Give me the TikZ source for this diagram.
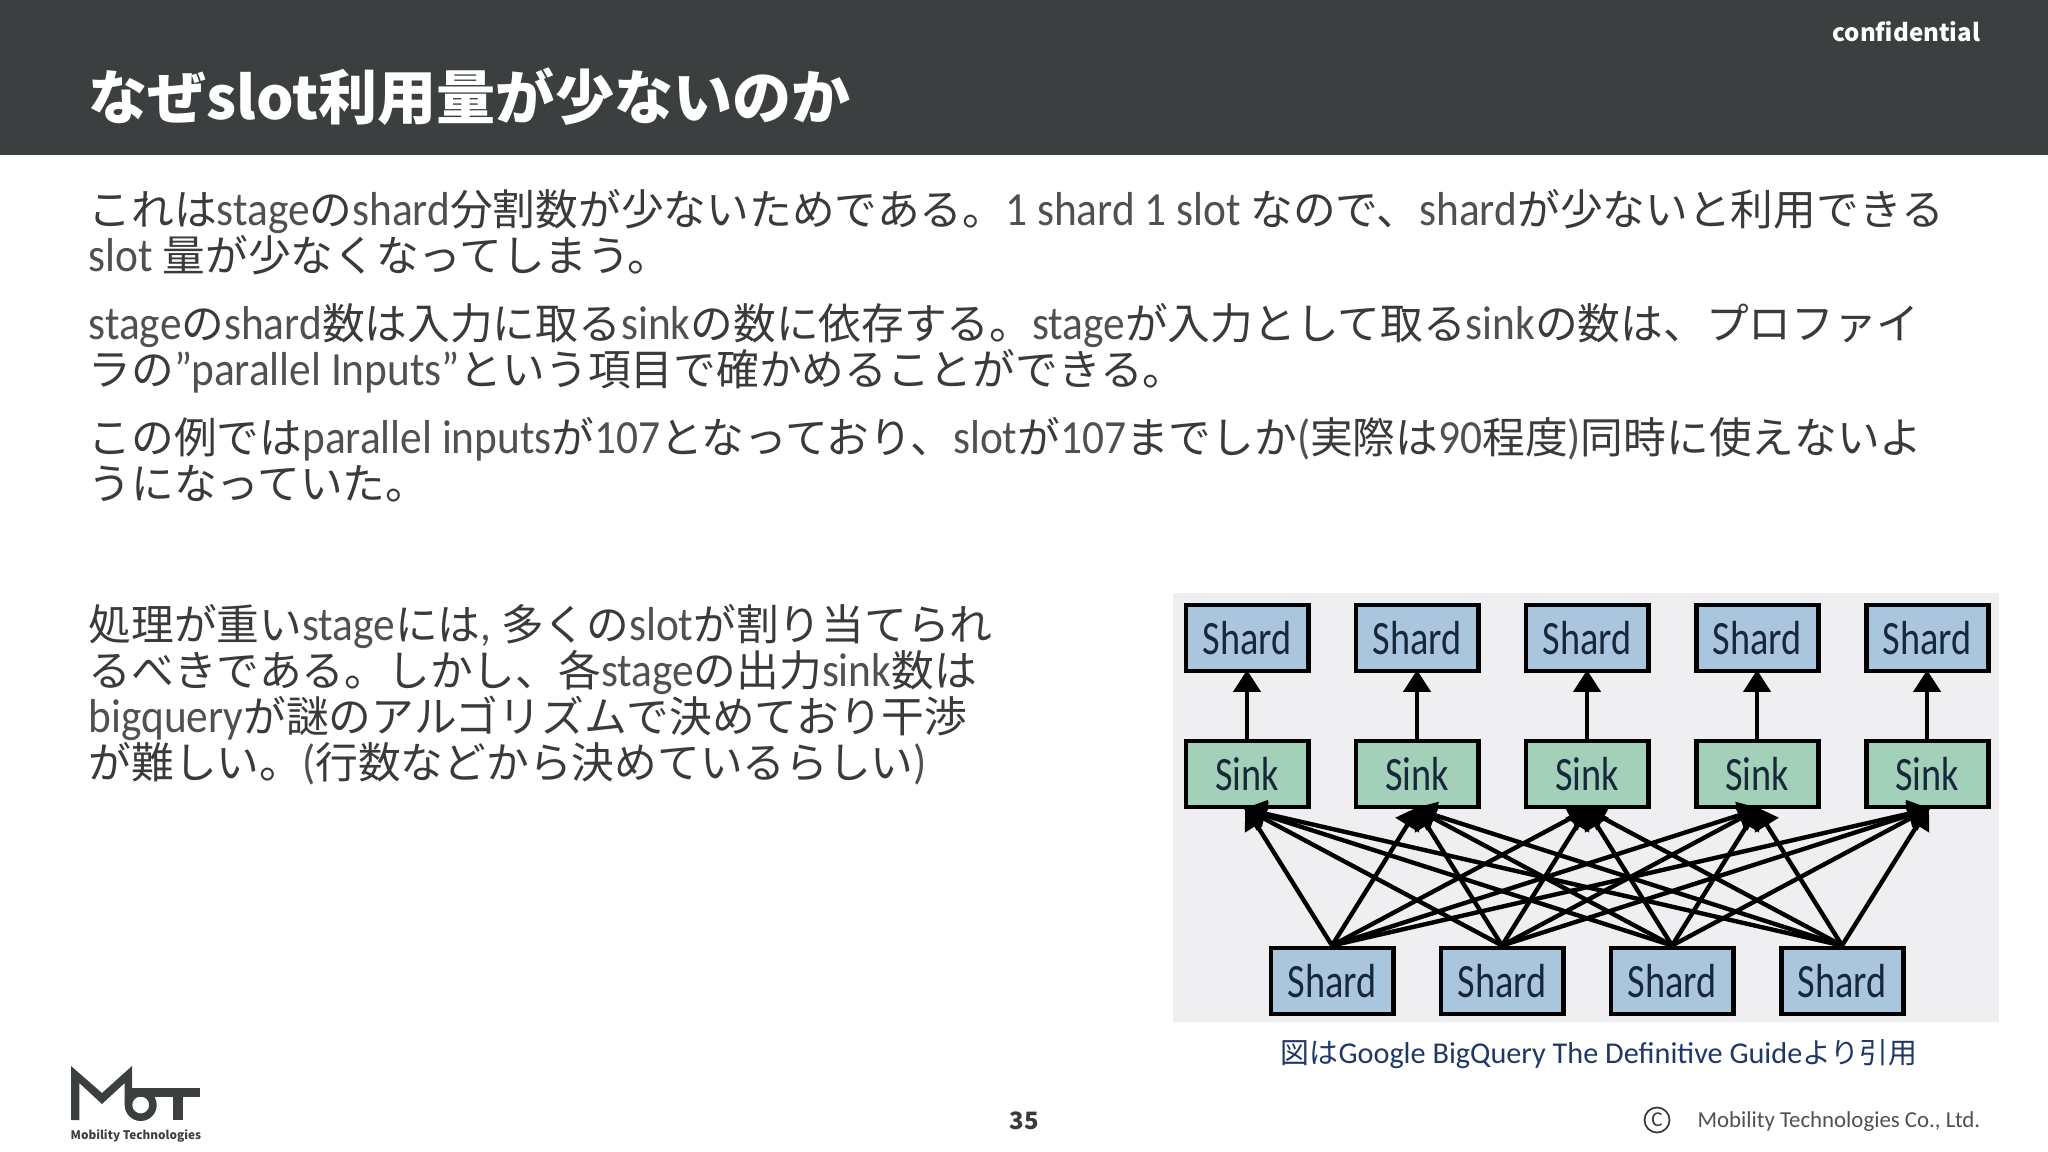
\documentclass[tikz,border=0pt]{standalone}
\usepackage{fontspec}
\setmainfont{Noto Sans CJK JP}
\newfontfamily\latfont[Scale=1.115,FakeStretch=0.91]{Carlito}
\newfontfamily\capfont{Carlito}
\newfontfamily\boxfont[FakeStretch=0.8]{Carlito}
\usetikzlibrary{arrows.meta,positioning}
\definecolor{headbg}{HTML}{3B3F3F}
\definecolor{bodytext}{HTML}{3A3A3A}
\definecolor{lattext}{HTML}{505050}
\definecolor{figbg}{HTML}{EFEFF1}
\definecolor{shardblue}{HTML}{A9C6DE}
\definecolor{sinkgreen}{HTML}{A3D0B8}
\definecolor{boxtext}{HTML}{16283A}
\definecolor{capnavy}{HTML}{1F3864}
\newcommand{\La}[1]{{\latfont\color{lattext}#1}}
\tikzset{
	bodyline/.style={anchor=base west, inner sep=0pt, text=bodytext, font=\fontsize{12.15pt}{13pt}\selectfont},
	databox/.style={draw=black, line width=1.4pt, minimum width=1.22cm, minimum height=0.66cm, inner sep=0pt, text=boxtext, font=\boxfont\fontsize{13.6pt}{13.6pt}\selectfont},
	shardbox/.style={databox, fill=shardblue},
	sinkbox/.style={databox, fill=sinkgreen},
	feed/.style={-{Triangle[width=0.27cm,length=0.22cm]}, line width=1.25pt, shorten >=-1pt},
}
\begin{document}
\begin{tikzpicture}[x=0.01cm,y=-0.01cm]
	\useasboundingbox (0,0) rectangle (2048,1152);
	\fill[headbg] (0,0) rectangle (2048,155);
	\node[anchor=base west, inner sep=0pt, text=white, font=\bfseries\fontsize{16.8pt}{17pt}\selectfont] (title) at (88,120) {なぜslot利用量が少ないのか};
	\node[anchor=base east, inner sep=0pt, text=white, font=\bfseries\fontsize{6.85pt}{8pt}\selectfont] (conf) at (1981,42) {confidential};

	\node[bodyline] (l1) at (88,226) {これは\La{stage}の\La{shard}分割数が少ないためである。\La{1 shard 1 slot} なので、\La{shard}が少ないと利用できる};
	\node[bodyline] (l2) at (88,272) {\La{slot} 量が少なくなってしまう。};
	\node[bodyline] (l3) at (88,340) {\La{stage}の\La{shard}数は入力に取る\La{sink}の数に依存する。\La{stage}が入力として取る\La{sink}の数は、プロファイ};
	\node[bodyline] (l4) at (88,386) {ラの\La{”parallel Inputs”}という項目で確かめることができる。};
	\node[bodyline] (l5) at (88,454) {この例では\La{parallel inputs}が\La{107}となっており、\La{slot}が\La{107}までしか\La{(}実際は\La{90}程度\La{)}同時に使えないよ};
	\node[bodyline] (l6) at (88,500) {うになっていた。};

	\node[bodyline] (l7) at (88,640) {処理が重い\La{stage}には\La{,} 多くの\La{slot}が割り当てられ};
	\node[bodyline] (l8) at (88,686) {るべきである。しかし、各\La{stage}の出力\La{sink}数は};
	\node[bodyline] (l9) at (88,732) {\La{bigquery}が謎のアルゴリズムで決めており干渉};
	\node[bodyline] (l10) at (88,778) {が難しい。\La{(}行数などから決めているらしい\La{)}};

	\fill[figbg] (1173,593) rectangle (1999,1022);
	\node[shardbox] (top1) at (1247,638) {Shard};
	\node[shardbox, right=0.43cm of top1] (top2) {Shard};
	\node[shardbox, right=0.43cm of top2] (top3) {Shard};
	\node[shardbox, right=0.43cm of top3] (top4) {Shard};
	\node[shardbox, right=0.43cm of top4] (top5) {Shard};
	\node[sinkbox, below=0.65cm of top1] (sink1) {Sink};
	\node[sinkbox, right=0.43cm of sink1] (sink2) {Sink};
	\node[sinkbox, right=0.43cm of sink2] (sink3) {Sink};
	\node[sinkbox, right=0.43cm of sink3] (sink4) {Sink};
	\node[sinkbox, right=0.43cm of sink4] (sink5) {Sink};
	\node[shardbox] (in1) at (1332,981) {Shard};
	\node[shardbox, right=0.43cm of in1] (in2) {Shard};
	\node[shardbox, right=0.43cm of in2] (in3) {Shard};
	\node[shardbox, right=0.43cm of in3] (in4) {Shard};

	\path[feed]
	(sink1) edge (top1)
	(sink2) edge (top2)
	(sink3) edge (top3)
	(sink4) edge (top4)
	(sink5) edge (top5)
	(in1.north) edge (sink1.south) edge (sink2.south) edge (sink3.south) edge (sink4.south) edge (sink5.south)
	(in2.north) edge (sink1.south) edge (sink2.south) edge (sink3.south) edge (sink4.south) edge (sink5.south)
	(in3.north) edge (sink1.south) edge (sink2.south) edge (sink3.south) edge (sink4.south) edge (sink5.south)
	(in4.north) edge (sink1.south) edge (sink2.south) edge (sink3.south) edge (sink4.south) edge (sink5.south);

	\node[inner sep=0pt, text=capnavy, font=\fontsize{8.2pt}{9pt}\selectfont] (cap) at (1599,1054) {図は{\capfont\fontsize{8.6pt}{9pt}\selectfont Google BigQuery The Definitive Guide}より引用};

	% logo
	\fill[headbg] (71,1066) -- (102,1093) -- (132,1066) -- (132,1105) -- (124.7,1105) -- (124.7,1083) -- (102,1104) -- (79.3,1083) -- (79.3,1120) -- (71,1120) -- cycle;
	\fill[headbg, even odd rule] (140.7,1105) circle[radius=16] (140.7,1105) circle[radius=8.5];
	\fill[headbg] (132,1088.3) rectangle (199.5,1096.7);
	\fill[headbg] (173.3,1096) rectangle (182.7,1120);
	\node[anchor=base west, inner sep=0pt, text=headbg, font=\bfseries\fontsize{3.35pt}{4pt}\selectfont] (logotext) at (70,1139) {Mobility Technologies};

	\node[text=bodytext, inner sep=0pt, font=\bfseries\fontsize{6.8pt}{7pt}\selectfont] (page) at (1024,1121) {35};
	\node[draw=bodytext, circle, line width=0.5pt, minimum size=0.25cm, inner sep=0pt, text=bodytext, font=\capfont\fontsize{6pt}{6pt}\selectfont] (copy) at (1657,1120) {C};
	\node[anchor=base east, inner sep=0pt, text=lattext, font=\capfont\fontsize{6.5pt}{7pt}\selectfont] (company) at (1981,1127) {Mobility Technologies Co., Ltd.};
\end{tikzpicture}
\end{document}
